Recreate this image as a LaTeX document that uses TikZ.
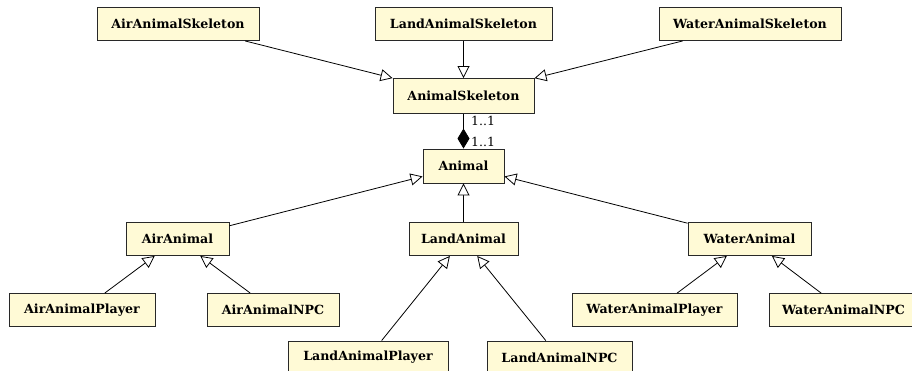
\documentclass[tikz,border=0pt]{standalone}
\usepackage{fontspec}
\setmainfont{DejaVu Serif}
\usetikzlibrary{arrows.meta}
\definecolor{boxfill}{RGB}{255,250,214}
\definecolor{boxline}{RGB}{40,40,40}
\tikzset{
  cls/.style={draw=boxline, fill=boxfill, line width=0.9pt, minimum height=33pt, inner sep=0pt,
    font=\fontsize{12.6}{15}\selectfont\bfseries},
  inherit/.style={draw=black, line width=0.8pt, -{Triangle[open, length=12pt, width=12pt, fill=white]}},
  compose/.style={draw=black, line width=0.8pt, -{Diamond[length=20pt, width=12pt]}},
  mult/.style={font=\fontsize{12.5}{15}\selectfont, anchor=west, inner sep=0pt},
}
\begin{document}
\begin{tikzpicture}[x=1pt,y=-1pt]
\useasboundingbox (0,0) rectangle (912,371);
% top row
\node[cls, minimum width=162pt] (airsk) at (178,24) {AirAnimalSkeleton};
\node[cls, minimum width=177pt] (landsk) at (463.5,24) {LandAnimalSkeleton};
\node[cls, minimum width=182pt] (watersk) at (750,24) {WaterAnimalSkeleton};
% skeleton
\node[cls, minimum width=141pt, minimum height=35pt] (sk) at (463.5,96) {AnimalSkeleton};
% animal
\node[cls, minimum width=81pt, minimum height=34pt] (animal) at (463.5,166) {Animal};
% middle row
\node[cls, minimum width=103pt] (air) at (177.5,239) {AirAnimal};
\node[cls, minimum width=109pt] (land) at (463.5,239) {LandAnimal};
\node[cls, minimum width=123pt] (water) at (749.5,239) {WaterAnimal};
% fourth row
\node[cls, minimum width=146pt] (airp) at (82,310) {AirAnimalPlayer};
\node[cls, minimum width=132pt] (airn) at (273,310) {AirAnimalNPC};
\node[cls, minimum width=165pt] (waterp) at (654.5,310) {WaterAnimalPlayer};
\node[cls, minimum width=149pt] (watern) at (843.5,310) {WaterAnimalNPC};
% bottom row
\node[cls, minimum width=160pt] (landp) at (368,357.5) {LandAnimalPlayer};
\node[cls, minimum width=145pt] (landn) at (559.5,357.5) {LandAnimalNPC};
% connectors
\draw[inherit] (airsk) -- (sk);
\draw[inherit] (landsk) -- (sk);
\draw[inherit] (watersk) -- (sk);
\draw[compose] (sk) -- (animal);
\node[mult] (m1) at (471,121) {1..1};
\node[mult] (m2) at (471,142) {1..1};
\draw[inherit] (air) -- (animal);
\draw[inherit] (land) -- (animal);
\draw[inherit] (water) -- (animal);
\draw[inherit] (airp) -- (air);
\draw[inherit] (airn) -- (air);
\draw[inherit] (landp) -- (land);
\draw[inherit] (landn) -- (land);
\draw[inherit] (waterp) -- (water);
\draw[inherit] (watern) -- (water);
\end{tikzpicture}
\end{document}
